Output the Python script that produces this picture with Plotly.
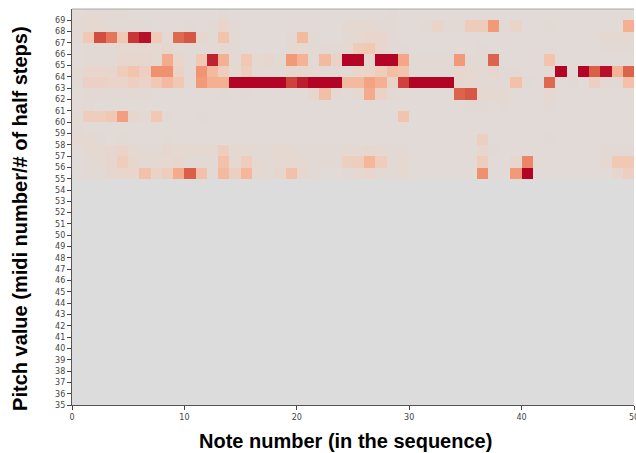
import plotly.graph_objects as go

# Note indices (cells 0..49) and pitch rows (55..69)
notes = list(range(50))
pitches = list(range(55, 70))
y_ticks = list(range(35, 70))
x_ticks = [0, 10, 20, 30, 40, 50]

# intensity per pitch row (0 = neutral grey, 1 = darkest red), 50 notes each
p69 = [.04,.07,.07,.05,.05,.04,.04,.04,.04,.04, .04,.04,.04,.06,.04,.04,.04,.04,.04,.04,
       .04,.04,.04,.04,.04,.04,.04,.04,.06,.04, .04,.04,.04,.04,.04,.04,.04,.04,.04,.04,
       .04,.04,.04,.04,.04,.04,.04,.04,.04,.04]
p68 = [.05,.08,.08,.06,.06,.06,.05,.04,.04,.04, .05,.04,.05,.12,.05,.04,.04,.04,.04,.04,
       .04,.04,.04,.04,.08,.08,.08,.05,.05,.04, .04,.05,.14,.05,.06,.22,.22,.55,.05,.14,
       .04,.04,.06,.04,.04,.04,.04,.04,.04,.42]
p67 = [.05,.25,.88,.72,.25,.92,.98,.22,.06,.78, .86,.10,.06,.28,.05,.04,.04,.04,.04,.06,
       .35,.05,.04,.04,.06,.08,.12,.12,.06,.04, .04,.04,.04,.04,.04,.04,.04,.04,.04,.04,
       .04,.04,.04,.04,.04,.04,.04,.08,.08,.08]
p66 = [.04,.05,.05,.06,.08,.08,.08,.08,.10,.06, .05,.05,.06,.08,.05,.04,.04,.04,.04,.08,
       .08,.05,.05,.06,.08,.22,.25,.10,.06,.05, .04,.04,.04,.04,.04,.04,.06,.04,.04,.04,
       .04,.04,.04,.04,.04,.04,.04,.06,.06,.06]
p65 = [.04,.06,.06,.06,.10,.10,.10,.08,.45,.12, .05,.25,.95,.42,.06,.25,.08,.10,.05,.55,
       .40,.06,.35,.15,1.0,1.0,.10,1.0,1.0,.48, .05,.05,.05,.05,.55,.05,.05,.80,.04,.04,
       .04,.04,.28,.04,.04,.04,.04,.04,.04,.04]
p64 = [.05,.12,.12,.10,.20,.28,.18,.60,.60,.15, .06,.58,.35,.20,.08,.20,.06,.06,.06,.10,
       .10,.08,.06,.06,.06,.12,.14,.20,.32,.28, .06,.05,.05,.05,.10,.08,.05,.10,.05,.05,
       .04,.04,.06,1.0,.04,1.0,.82,.98,.40,.80]
p63 = [.05,.16,.16,.14,.14,.18,.15,.25,.35,.25, .06,.55,.42,.42,1.0,1.0,1.0,1.0,1.0,.90,
       .96,1.0,1.0,1.0,.35,.35,.50,.42,.15,.90, 1.0,1.0,1.0,1.0,.10,.08,.05,.05,.05,.30,
       .05,.04,.78,.04,.05,.04,.18,.05,.05,.30]
p62 = [.04,.05,.05,.05,.05,.06,.05,.04,.04,.04, .04,.04,.04,.05,.04,.06,.04,.04,.04,.04,
       .04,.10,.32,.06,.04,.08,.45,.15,.05,.04, .04,.04,.04,.04,.80,.85,.08,.08,.08,.04,
       .04,.04,.08,.04,.04,.04,.04,.04,.04,.04]
p61 = [.04,.05,.04,.04,.04,.04,.04,.04,.04,.04, .04,.04,.04,.04,.04,.04,.04,.04,.04,.04,
       .04,.04,.04,.04,.04,.04,.04,.04,.04,.04, .04,.04,.04,.04,.04,.06,.06,.04,.06,.04,
       .04,.04,.05,.04,.04,.04,.04,.04,.04,.04]
p60 = [.05,.20,.20,.25,.52,.10,.06,.25,.06,.04, .04,.06,.04,.04,.04,.04,.04,.04,.04,.04,
       .04,.04,.04,.04,.04,.04,.04,.04,.04,.28, .04,.04,.04,.04,.04,.04,.04,.04,.04,.04,
       .04,.04,.04,.04,.04,.04,.04,.04,.04,.04]
p59 = [.05,.04,.04,.04,.04,.04,.04,.04,.04,.04, .04,.04,.04,.04,.04,.04,.04,.04,.04,.04,
       .04,.04,.04,.04,.04,.04,.04,.04,.04,.04, .04,.04,.04,.04,.04,.04,.04,.04,.04,.04,
       .04,.04,.04,.04,.04,.04,.04,.04,.04,.04]
p58 = [.08,.08,.05,.04,.05,.04,.04,.04,.05,.04, .04,.04,.04,.04,.04,.04,.04,.04,.04,.04,
       .04,.04,.04,.04,.04,.04,.04,.04,.04,.04, .04,.04,.04,.04,.04,.04,.18,.04,.04,.04,
       .04,.04,.05,.04,.04,.04,.04,.04,.04,.04]
p57 = [.04,.08,.08,.10,.14,.08,.06,.05,.10,.08, .08,.08,.08,.20,.08,.08,.06,.06,.08,.08,
       .06,.06,.05,.05,.08,.08,.10,.08,.06,.06, .04,.04,.04,.04,.04,.04,.10,.05,.04,.04,
       .04,.04,.04,.04,.04,.04,.04,.06,.06,.06]
p56 = [.04,.06,.08,.10,.20,.10,.06,.08,.08,.10, .06,.06,.06,.30,.08,.20,.08,.05,.08,.08,
       .08,.06,.06,.05,.18,.20,.38,.20,.05,.08, .04,.04,.04,.04,.04,.04,.20,.04,.04,.10,
       .65,.04,.04,.04,.04,.04,.04,.08,.25,.25]
p55 = [.04,.05,.05,.10,.12,.12,.30,.15,.20,.45, .82,.30,.06,.35,.18,.38,.08,.05,.10,.30,
       .10,.05,.04,.04,.05,.08,.12,.06,.05,.08, .04,.04,.04,.04,.04,.04,.60,.04,.04,.55,
       1.0,.04,.04,.04,.04,.04,.04,.04,.10,.18]

z = [p55, p56, p57, p58, p59, p60, p61, p62, p63, p64, p65, p66, p67, p68, p69]

# upper half of a cool-warm diverging map
colorscale = [
    [0.000, "#dddcdc"], [0.125, "#e9d5cb"], [0.250, "#f1c8b4"],
    [0.375, "#f5b79b"], [0.500, "#f4a382"], [0.625, "#ee8b6a"],
    [0.750, "#e37054"], [0.875, "#d35240"], [1.000, "#b40426"],
]

fig = go.Figure(go.Heatmap(
    x=[n + 0.5 for n in notes],
    y=[p + 0.5 for p in pitches],
    z=z, zmin=0, zmax=1,
    colorscale=colorscale, showscale=False, hoverongaps=False,
))

fig.update_layout(
    width=636, height=453,
    margin=dict(l=72, r=2, t=9, b=48, autoexpand=False),
    paper_bgcolor="white",
    plot_bgcolor="#dcdcdd",
    font=dict(family="DejaVu Sans", size=8, color="#333333"),
    xaxis=dict(range=[0, 50], tickvals=x_ticks, ticks="outside", ticklen=4,
               tickcolor="#444", showgrid=False, zeroline=False,
               showline=True, linecolor="#555", linewidth=1.2, mirror=False,
               ticklabeloverflow="allow",
               tickfont=dict(size=8, color="#444")),
    yaxis=dict(range=[35, 70], tickvals=y_ticks, ticks="outside", ticklen=4,
               tickcolor="#444", showgrid=False, zeroline=False,
               showline=True, linecolor="#555", linewidth=1.2, mirror=False,
               tickfont=dict(size=8, color="#444")),
    shapes=[dict(type="line", xref="paper", yref="paper", x0=0, x1=1, y0=1, y1=1,
                 line=dict(color="#aaaaaa", width=1.2))],
    annotations=[
        dict(text="<b>Note number (in the sequence)</b>", xref="paper", yref="paper",
             x=0.486, y=-0.09, xanchor="center", yanchor="middle", showarrow=False,
             font=dict(family="Liberation Sans", size=20, color="black")),
        dict(text="<b>Pitch value (midi number/# of half steps)</b>", xref="paper",
             yref="paper", x=-0.0925, y=0.47, xanchor="center", yanchor="middle",
             textangle=-90, showarrow=False,
             font=dict(family="Liberation Sans", size=20, color="black")),
    ],
)

fig.write_html("out.html",
               config={"displayModeBar": False},
               post_script="document.body.style.margin='0px';document.body.style.overflow='hidden';")
